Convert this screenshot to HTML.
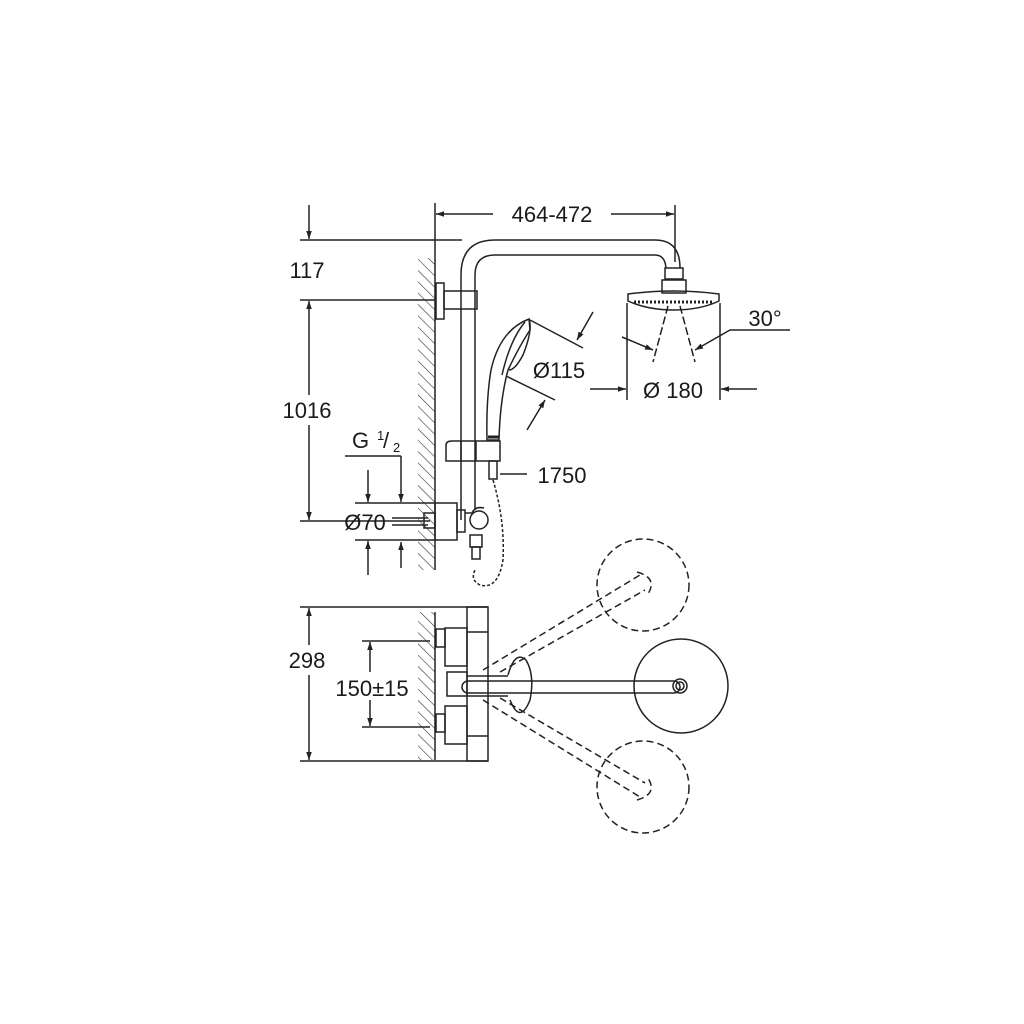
<!DOCTYPE html>
<html><head><meta charset="utf-8"><style>
html,body{margin:0;padding:0;background:#fff}
svg{display:block}
text{font-family:"Liberation Sans",sans-serif;fill:#1a1a1a}
</style></head><body>
<svg width="1024" height="1024" viewBox="0 0 1024 1024" xmlns="http://www.w3.org/2000/svg">
<defs>
<pattern id="h" width="8" height="8" patternUnits="userSpaceOnUse" patternTransform="rotate(-45)">
<line x1="0" y1="0" x2="0" y2="8" stroke="#333" stroke-width="1.2"/>
</pattern>
<marker id="a" viewBox="0 0 10 10" refX="10" refY="5" markerWidth="11" markerHeight="8" orient="auto-start-reverse" markerUnits="userSpaceOnUse">
<path d="M0,1.5 L10,5 L0,8.5 Z" fill="#222"/>
</marker>
</defs>
<g stroke="#222" stroke-width="1.5" fill="none">
<line x1="435" y1="203" x2="435" y2="570"/>
<line x1="675" y1="205" x2="675" y2="262"/>
<line x1="436" y1="214" x2="493" y2="214" marker-start="url(#a)"/>
<line x1="611" y1="214" x2="674" y2="214" marker-end="url(#a)"/>
<line x1="300" y1="240" x2="462" y2="240"/>
<line x1="300" y1="300" x2="436" y2="300"/>
<line x1="300" y1="521" x2="430" y2="521"/>
<line x1="309" y1="205" x2="309" y2="239" marker-end="url(#a)"/>
<line x1="309" y1="301" x2="309" y2="395" marker-start="url(#a)"/>
<line x1="309" y1="425" x2="309" y2="520" marker-end="url(#a)"/>
<rect x="418" y="258" width="17" height="312" fill="url(#h)" stroke="none"/>
<rect x="418" y="612" width="17" height="148" fill="url(#h)" stroke="none"/>
<path d="M461,520 V275 Q461,240 495,240 H655 Q680,240 680,268"/>
<path d="M475,510 V275 Q475,255 495,255 H655 Q665,255 666,268"/>
<rect x="665" y="268" width="18" height="11"/>
<path d="M662,280 H686 V293 H662 Z"/>
<path d="M628,294 Q674,288 719,294 V301 Q700,310 674,310 Q648,310 628,301 Z"/>
<line x1="634" y1="302" x2="714" y2="302" stroke-width="3" stroke-dasharray="2,2"/>
<line x1="627" y1="303" x2="627" y2="400"/>
<line x1="720" y1="303" x2="720" y2="400"/>
<line x1="590" y1="389" x2="626" y2="389" marker-end="url(#a)"/>
<line x1="757" y1="389" x2="721" y2="389" marker-end="url(#a)"/>
<line x1="668" y1="306" x2="653" y2="362" stroke-dasharray="8,3"/>
<line x1="680" y1="306" x2="695" y2="362" stroke-dasharray="8,3"/>
<path d="M622,337 L653,350" marker-end="url(#a)"/>
<path d="M790,330 H730 L695,350" marker-end="url(#a)"/>
<rect x="436" y="283" width="8" height="36"/>
<rect x="444" y="291" width="33" height="18"/>
<path d="M529,319 Q500,330 491,370 Q486,400 487,440 H499 Q500,400 508,370 Q520,345 530,330 Z"/>
<path d="M529,319 Q533,330 523,355 Q515,370 509,370"/>
<path d="M525,322 Q510,340 502,375"/>
<line x1="488" y1="437" x2="499" y2="437" stroke-width="3"/>
<line x1="530" y1="320" x2="583" y2="348"/>
<line x1="506" y1="376" x2="555" y2="400"/>
<line x1="593" y1="312" x2="577" y2="340" marker-end="url(#a)"/>
<line x1="527" y1="430" x2="545" y2="400" marker-end="url(#a)"/>
<path d="M446,445 Q446,441 452,441 H500 V461 H446 Z"/>
<line x1="461" y1="441" x2="461" y2="461"/>
<line x1="476" y1="441" x2="476" y2="461"/>
<rect x="489" y="461" width="8" height="18"/>
<line x1="500" y1="474" x2="527" y2="474"/>
<path d="M493,480 Q505,520 503,560 Q498,590 480,585 Q470,580 475,570" stroke-dasharray="3,2"/>
<rect x="435" y="503" width="22" height="37"/>
<rect x="424" y="513" width="11" height="15"/>
<rect x="457" y="510" width="8" height="22"/>
<path d="M465,513 H472 Q475,506 484,508"/>
<circle cx="479" cy="520" r="9"/>
<rect x="470" y="535" width="12" height="12"/>
<rect x="472" y="547" width="8" height="12"/>
<line x1="345" y1="456" x2="401" y2="456"/>
<line x1="401" y1="456" x2="401" y2="502" marker-end="url(#a)"/>
<line x1="401" y1="568" x2="401" y2="542" marker-end="url(#a)"/>
<line x1="355" y1="503" x2="435" y2="503"/>
<line x1="355" y1="540" x2="435" y2="540"/>
<line x1="368" y1="470" x2="368" y2="502" marker-end="url(#a)"/>
<line x1="368" y1="575" x2="368" y2="541" marker-end="url(#a)"/>
<line x1="392" y1="518" x2="428" y2="518"/>
<line x1="392" y1="525" x2="428" y2="525"/>
<line x1="300" y1="607" x2="488" y2="607"/>
<line x1="300" y1="761" x2="488" y2="761"/>
<line x1="309" y1="608" x2="309" y2="645" marker-start="url(#a)"/>
<line x1="309" y1="675" x2="309" y2="760" marker-end="url(#a)"/>
<line x1="362" y1="641" x2="430" y2="641"/>
<line x1="362" y1="727" x2="430" y2="727"/>
<line x1="370" y1="642" x2="370" y2="672" marker-start="url(#a)"/>
<line x1="370" y1="700" x2="370" y2="726" marker-end="url(#a)"/>
<line x1="435" y1="612" x2="435" y2="760"/>
<rect x="467" y="607" width="21" height="154"/>
<line x1="467" y1="632" x2="488" y2="632"/>
<line x1="467" y1="736" x2="488" y2="736"/>
<rect x="436" y="629" width="9" height="18"/>
<rect x="445" y="628" width="22" height="38"/>
<rect x="436" y="714" width="9" height="18"/>
<rect x="445" y="706" width="22" height="38"/>
<rect x="447" y="672" width="20" height="24"/>
<path d="M467,676 H508 M467,696 H508"/>
<rect x="462" y="681" width="218" height="12" rx="6"/>
<path d="M508,675 Q515,650 526,660 Q535,675 530,700 Q520,725 510,700"/>
<circle cx="681" cy="686" r="47"/>
<circle cx="680" cy="686" r="7"/>
<circle cx="680" cy="686" r="4"/>
<g stroke-dasharray="7,4">
<circle cx="643" cy="585" r="46"/>
<circle cx="643" cy="787" r="46"/>
<line x1="483" y1="670" x2="640" y2="575"/>
<line x1="500" y1="672" x2="645" y2="590"/>
<line x1="483" y1="700" x2="640" y2="797"/>
<line x1="500" y1="698" x2="645" y2="783"/>
<path d="M637,572 Q658,578 648,594"/>
<path d="M637,800 Q658,794 648,778"/>
</g>
</g>
<g font-size="22">
<text x="552" y="222" text-anchor="middle">464-472</text>
<text x="307" y="278" text-anchor="middle">117</text>
<text x="307" y="418" text-anchor="middle">1016</text>
<text x="559" y="378" text-anchor="middle">Ø115</text>
<text x="673" y="398" text-anchor="middle">Ø 180</text>
<text x="765" y="326" text-anchor="middle">30°</text>
<text x="562" y="483" text-anchor="middle">1750</text>
<text x="352" y="448">G</text>
<text x="377" y="440" font-size="13">1</text>
<text x="383" y="448">/</text>
<text x="393" y="452" font-size="13">2</text>
<text x="365" y="530" text-anchor="middle">Ø70</text>
<text x="307" y="668" text-anchor="middle">298</text>
<text x="372" y="696" text-anchor="middle">150±15</text>
</g>
</svg>
</body></html>
